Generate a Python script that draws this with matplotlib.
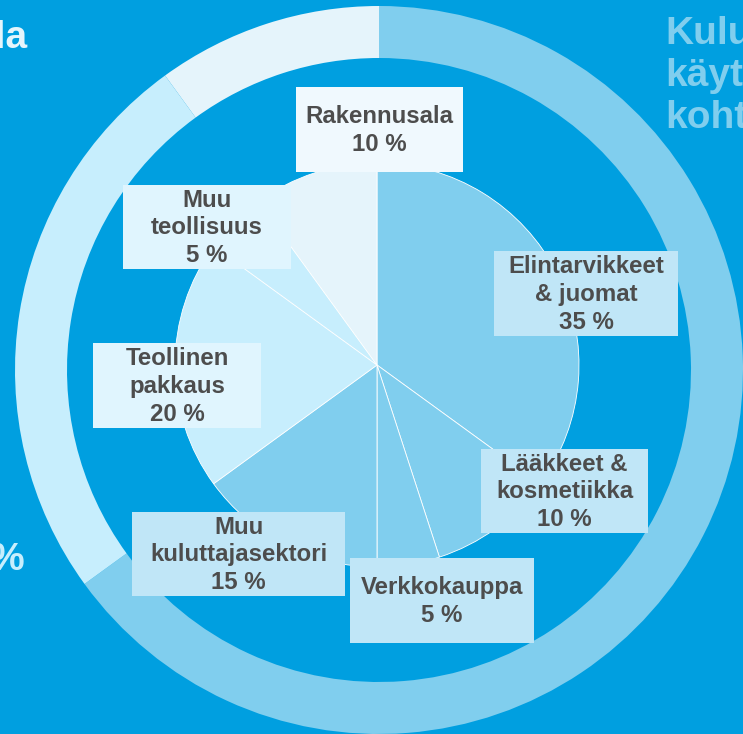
import matplotlib
matplotlib.use("Agg")
import matplotlib.pyplot as plt
from matplotlib.patches import Rectangle

# ---- data ----
segments = ["Kuluttajasektori", "Teollisuus", "Rakennusala"]
segment_values = [65, 25, 10]

categories = ["Elintarvikkeet\n& juomat", "Lääkkeet &\nkosmetiikka", "Verkkokauppa",
              "Muu\nkuluttajasektori", "Teollinen\npakkaus", "Muu\nteollisuus", "Rakennusala"]
values = [35, 10, 5, 15, 20, 5, 10]
labels = [f"{c}\n{v} %" for c, v in zip(categories, values)]

# ---- style ----
W, H = 743, 734
BG = "#009FE0"
C_CONS, C_IND, C_CONST = "#80CEEE", "#C7EEFD", "#E5F4FB"
seg_colors = [C_CONS, C_IND, C_CONST]
slice_colors = [C_CONS, C_CONS, C_CONS, C_CONS, C_IND, C_IND, C_CONST]
TXT = "#4D4D4D"
FONT = ["Liberation Sans", "DejaVu Sans"]

# label boxes in pixel coords (x0, x1, y0_top, y1_bottom)
boxes = [(494, 678, 251, 336), (481, 648, 449, 533), (350, 534, 558, 643),
         (132, 345, 512, 596), (93, 261, 343, 428), (123, 291, 185, 269),
         (296, 463, 87, 172)]
box_colors = ["#C0E6F7", "#C0E6F7", "#C0E6F7", "#C0E6F7", "#E0F5FE", "#E0F5FE", "#F0F9FE"]

fig = plt.figure(figsize=(W / 100, H / 100), dpi=100)
fig.patch.set_facecolor(BG)
ax = fig.add_axes([0, 0, 1, 1])
ax.set_facecolor(BG)

# outer ring
ring_c = (379, H - 370)
ax.pie(segment_values, colors=seg_colors, radius=364, center=ring_c,
       startangle=90, counterclock=False,
       wedgeprops=dict(width=52, linewidth=0))

# inner pie
pie_c = (377, H - 365)
ax.pie(values, colors=slice_colors, radius=202, center=pie_c,
       startangle=90, counterclock=False,
       wedgeprops=dict(linewidth=0.6, edgecolor="white"))

for (x0, x1, y0, y1), fc, lab in zip(boxes, box_colors, labels):
    ax.add_patch(Rectangle((x0, H - y1), x1 - x0, y1 - y0, facecolor=fc,
                           edgecolor="none", zorder=5))
    ax.text((x0 + x1) / 2, H - (y0 + y1) / 2 - 1, lab, ha="center", va="center",
            fontsize=17.3, fontweight="bold", color=TXT, family=FONT,
            linespacing=1.26, zorder=6)

# partially visible side texts
ax.text(27, H - 38, "Rakennusala", ha="right", va="center", fontsize=28,
        fontweight="bold", color="#E5F5FC", family=FONT, zorder=6)
ax.text(25, H - 560, "25 %", ha="right", va="center", fontsize=28,
        fontweight="bold", color=C_IND, family=FONT, zorder=6)
ax.text(665, H - 76, "Kuluttaja-\nkäyttö\nkohtaisesti", ha="left", va="center",
        fontsize=28, fontweight="bold", color=C_CONS, family=FONT,
        linespacing=1.2, zorder=6)

ax.set_xlim(0, W)
ax.set_ylim(0, H)
ax.set_aspect("auto")
ax.axis("off")

fig.savefig("out.png", dpi=100, facecolor=BG)
